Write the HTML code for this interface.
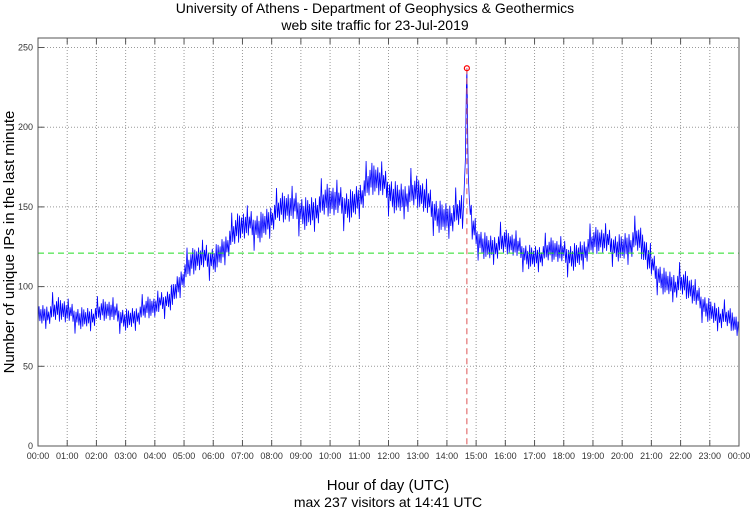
<!DOCTYPE html>
<html><head><meta charset="utf-8"><style>
body{margin:0;background:#fff;}
svg{display:block;font-family:"Liberation Sans",sans-serif;}
</style></head><body>
<svg id="chart" width="750" height="511" viewBox="0 0 750 511">
<text x="375" y="13" text-anchor="middle" font-size="14">University of Athens - Department of Geophysics &amp; Geothermics</text>
<text x="375" y="30" text-anchor="middle" font-size="14">web site traffic for 23-Jul-2019</text>
<g id="grid"></g>
<g id="series"></g>
<g id="overlay"></g>
<rect x="38" y="38" width="701" height="408" fill="none" stroke="#555" stroke-width="1"/>
<g id="axes"></g>
<text transform="translate(14,242) rotate(-90)" text-anchor="middle" font-size="15">Number of unique IPs in the last minute</text>
<text x="388" y="490" text-anchor="middle" font-size="15">Hour of day (UTC)</text>
<text x="388" y="507" text-anchor="middle" font-size="14">max 237 visitors at 14:41 UTC</text>
</svg>
<script>
const hourLabels=["00:00","01:00","02:00","03:00","04:00","05:00","06:00","07:00","08:00","09:00","10:00","11:00","12:00","13:00","14:00","15:00","16:00","17:00","18:00","19:00","20:00","21:00","22:00","23:00","00:00"];
const yTicks=[0,50,100,150,200,250];
const centers=[85,83,82,83,82,83,82,83,85,95,108,115,120,128,135,140,145,146,150,150,150,153,158,164,162,158,155,150,146,143,132,127,125,123,121,120,120,123,125,127,128,128,112,106,100,93,88,80,72];
const spreads=[8,9,8,8,8,8,8,8,8,9,10,10,10,11,11,11,11,12,12,12,12,12,12,12,12,12,12,12,12,12,10,10,9,9,9,9,10,10,10,10,11,11,10,10,10,9,9,8];
const spikeMinutes=[874,876,878,879,880,881,882,883,884,886,888];
const spikeValues=[150,165,180,205,225,237,215,190,170,155,145];
const meanValue=121;
const maxMinute=881, maxValue=237;

const X0=38,X1=739,Y0=446,Y1=38;
const xs=m=>X0+(X1-X0)*m/1440;
const ys=v=>Y0-v*(446-47.5)/250;
const NS="http://www.w3.org/2000/svg";
function mk(t,a,p){const e=document.createElementNS(NS,t);for(const k in a)e.setAttribute(k,a[k]);p.appendChild(e);return e;}
const grid=document.getElementById('grid'),axes=document.getElementById('axes'),ser=document.getElementById('series'),ov=document.getElementById('overlay');

hourLabels.forEach((l,i)=>{
 const x=xs(i*60);
 if(i>0&&i<24){const g=mk('line',{x1:x,x2:x,y1:Y1,y2:Y0,stroke:'#999','stroke-dasharray':'1,2','stroke-width':1},grid);
 
 
 const tk=mk('line',{x1:x,x2:x,y1:Y0,y2:Y0-6,stroke:'#555'},axes);
 
 
 const tt=mk('line',{x1:x,x2:x,y1:Y1,y2:Y1+6,stroke:'#555'},axes);
 
 }
 const t=mk('text',{x:x,y:459,'font-size':9,'text-anchor':'middle',fill:'#333'},axes);t.textContent=l;
 
 
});
yTicks.forEach(v=>{
 const y=ys(v);
 if(v>0){const g=mk('line',{x1:X0,x2:X1,y1:y,y2:y,stroke:'#999','stroke-dasharray':'1,2'},grid);
 
 
 const tk=mk('line',{x1:X0,x2:X0+6,y1:y,y2:y,stroke:'#555'},axes);
 
 }
 const t=mk('text',{x:33,y:y+3,'font-size':9,'text-anchor':'end',fill:'#333'},axes);t.textContent=v;
 
 
});

const jit=[1,0.35,0.8,0.15,0.95,0.5,0.7,0.25,1.3,0.45,0.6,0.1,0.85,0.55,0.3,1.5,0.2,0.65,0.4,0.9,0.05,1.2,0.5];
let pts=[],k=0;
for(let m=0;m<=1440;m+=2){
 if(m>=spikeMinutes[0]&&m<=spikeMinutes[spikeMinutes.length-1]){
  if(m===spikeMinutes[0])spikeMinutes.forEach((sm,j)=>pts.push(xs(sm).toFixed(1)+','+ys(spikeValues[j]).toFixed(1)));
  k++;continue;
 }
 let b=Math.min(47,Math.floor(m/30)),f=(m-b*30)/30;
 let c=centers[b]+(centers[b+1]-centers[b])*f;
 let s=spreads[b];
 let sign=(k%2?1:-1);
 let v=c+sign*s*jit[k%jit.length];
 pts.push(xs(m).toFixed(1)+','+ys(v).toFixed(1));
 k++;
}
const pl=mk('polyline',{points:pts.join(' '),fill:'none',stroke:'#0000ff','stroke-width':0.8},ser);



const ml=mk('line',{x1:X0,x2:X1,y1:ys(meanValue),y2:ys(meanValue),stroke:'#22dd22','stroke-dasharray':'6,4','stroke-width':1},ov);


const vl=mk('line',{x1:xs(maxMinute),x2:xs(maxMinute),y1:ys(maxValue),y2:Y0,stroke:'#dd5555','stroke-dasharray':'6,4','stroke-width':1},ov);


const mc=mk('circle',{cx:xs(maxMinute),cy:ys(maxValue),r:2.5,fill:'none',stroke:'#ff0000','stroke-width':1.2},ov);


</script>
</body></html>
